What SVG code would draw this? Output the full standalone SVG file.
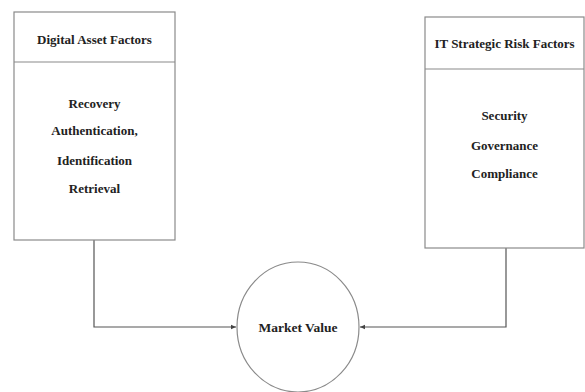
<svg xmlns="http://www.w3.org/2000/svg" width="585" height="392" viewBox="0 0 585 392">
<style>
.box{fill:#fff;stroke:#8a8a8a;stroke-width:1.2}
.t{font-family:"Liberation Serif",serif;font-weight:bold;font-size:13px;fill:#222;text-anchor:middle}
.c{fill:none;stroke:#555;stroke-width:1.2}
</style>
<defs>
<marker id="ah" markerWidth="6" markerHeight="6" refX="5" refY="3" orient="auto" markerUnits="userSpaceOnUse">
<path d="M0,0.8 L5,3 L0,5.2 Z" fill="#444"/>
</marker>
</defs>
<rect width="585" height="392" fill="#fff"/>
<g id="connectors">
<path class="c" d="M94,240 V327 H236" marker-end="url(#ah)"/>
<path class="c" d="M506,248 V327 H360" marker-end="url(#ah)"/>
</g>
<g id="digital-asset-factors">
<rect class="box" x="14" y="12" width="161" height="228"/>
<line class="box" x1="14" y1="62" x2="175" y2="62"/>
<text class="t" x="94.5" y="43.5">Digital Asset Factors</text>
<text class="t" x="94.5" y="107.5">Recovery</text>
<text class="t" x="94.5" y="134.5">Authentication,</text>
<text class="t" x="94.5" y="164.5">Identification</text>
<text class="t" x="94.5" y="192.5">Retrieval</text>
</g>
<g id="it-strategic-risk-factors">
<rect class="box" x="425" y="17" width="159" height="231"/>
<line class="box" x1="425" y1="69" x2="584" y2="69"/>
<text class="t" x="504.5" y="47.5">IT Strategic Risk Factors</text>
<text class="t" x="504.5" y="119.5">Security</text>
<text class="t" x="504.5" y="149.5">Governance</text>
<text class="t" x="504.5" y="177.5">Compliance</text>
</g>
<g id="market-value">
<ellipse class="box" cx="298" cy="327" rx="61" ry="65"/>
<text class="t" x="298" y="332" style="font-size:13.5px">Market Value</text>
</g>
</svg>
